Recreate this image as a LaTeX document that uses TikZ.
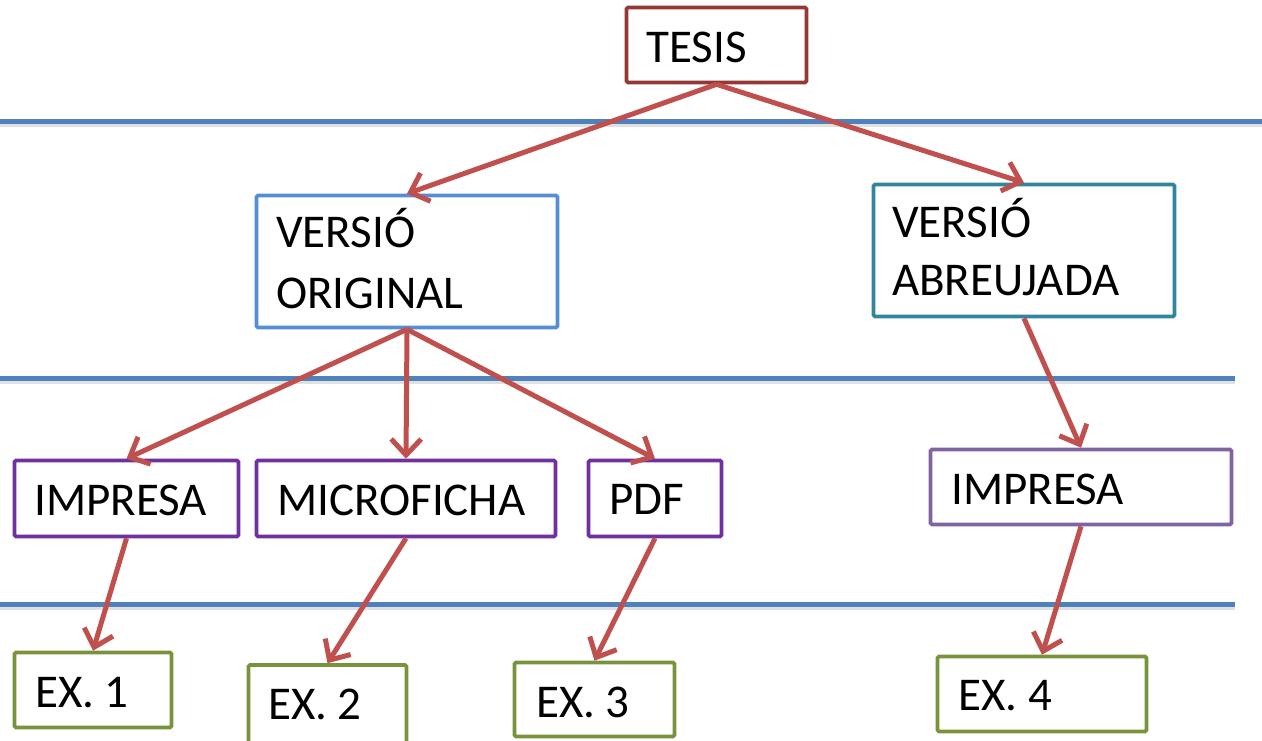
\documentclass[tikz,border=0pt]{standalone}
\usepackage{fontspec}
\setmainfont{Carlito}
\usetikzlibrary{arrows.meta}
\definecolor{tesisred}{HTML}{953735}
\definecolor{vocol}{HTML}{558ED5}
\definecolor{vacol}{HTML}{31859C}
\definecolor{purp}{HTML}{7030A0}
\definecolor{purp2}{HTML}{8064A2}
\definecolor{exgreen}{HTML}{77933C}
\definecolor{arrowred}{HTML}{C0504D}
\definecolor{sepblue}{HTML}{4F81BD}
\begin{document}
\begin{tikzpicture}[x=1pt,y=-1pt,
  box/.style={draw, line width=3.6pt, rounded corners=1.5pt, inner sep=0pt, fill=white},
  lbl/.style={anchor=base west, inner sep=0pt, font=\fontsize{47}{56}\selectfont},
  conn/.style={draw=arrowred, line width=5pt, -{Straight Barb[length=16pt,width=30pt]}},
  sepline/.style={draw=sepblue, line width=5pt},
  sepshadow/.style={draw=black, opacity=0.12, line width=5pt}]
\useasboundingbox (0,0) rectangle (1262,740);
% separators
\coordinate (s1a) at (0,121); \coordinate (s1b) at (1262,121);
\coordinate (s2a) at (0,378); \coordinate (s2b) at (1235,378);
\coordinate (s3a) at (0,604); \coordinate (s3b) at (1235,604);
\draw[sepshadow] ([yshift=-3pt]s1a) -- ([yshift=-3pt]s1b);
\draw[sepshadow] ([yshift=-3pt]s2a) -- ([yshift=-3pt]s2b);
\draw[sepshadow] ([yshift=-3pt]s3a) -- ([yshift=-3pt]s3b);
\draw[sepline] (s1a) -- (s1b);
\draw[sepline] (s2a) -- (s2b);
\draw[sepline] (s3a) -- (s3b);
% boxes
\node[box, draw=tesisred, minimum width=180pt, minimum height=75pt] (tesis) at (716.5,45) {};
\node[box, draw=vocol, minimum width=301pt, minimum height=132pt] (vo) at (407,261.5) {};
\node[box, draw=vacol, minimum width=301pt, minimum height=132pt] (va) at (1024,250.5) {};
\node[box, draw=purp, minimum width=224pt, minimum height=76pt] (imp1) at (126.5,498.5) {};
\node[box, draw=purp, minimum width=299pt, minimum height=76pt] (micro) at (406,498.5) {};
\node[box, draw=purp, minimum width=133pt, minimum height=76pt] (pdf) at (655,498.5) {};
\node[box, draw=purp2, minimum width=301pt, minimum height=75pt] (imp2) at (1081,487) {};
\node[box, draw=exgreen, minimum width=157pt, minimum height=75pt] (ex1) at (93,690) {};
\node[box, draw=exgreen, minimum width=158pt, minimum height=80pt] (ex2) at (327.5,705) {};
\node[box, draw=exgreen, minimum width=160pt, minimum height=74pt] (ex3) at (594.5,699.5) {};
\node[box, draw=exgreen, minimum width=209pt, minimum height=75pt] (ex4) at (1042,694) {};
% texts
\node[lbl] (t1) at (646,62) {TESIS};
\node[lbl] (t2) at (276,247) {VERSIÓ};
\node[lbl] (t3) at (276,308) {ORIGINAL};
\node[lbl] (t4) at (892,237) {VERSIÓ};
\node[lbl] (t5) at (892,295) {ABREUJADA};
\node[lbl] (t6) at (34,515) {IMPRESA};
\node[lbl] (t7) at (277,515) {MICROFICHA};
\node[lbl] (t8) at (609,514) {PDF};
\node[lbl] (t9) at (951,504) {IMPRESA};
\node[lbl] (t10) at (35,707) {EX. 1};
\node[lbl] (t11) at (268,719) {EX. 2};
\node[lbl] (t12) at (536,717) {EX. 3};
\node[lbl] (t13) at (958,710) {EX. 4};
% connectors
\draw[conn] (tesis.south) -- (vo.north);
\draw[conn] (tesis.south) -- (va.north);
\draw[conn] (vo.south) -- (imp1.north);
\draw[conn] (vo.south) -- (micro.north);
\draw[conn] (vo.south) -- (pdf.north);
\draw[conn] (va.south) -- (imp2.north);
\draw[conn] (imp1.south) -- (ex1.north);
\draw[conn] (micro.south) -- (ex2.north);
\draw[conn] (pdf.south) -- (ex3.north);
\draw[conn] (imp2.south) -- (ex4.north);
\end{tikzpicture}
\end{document}
